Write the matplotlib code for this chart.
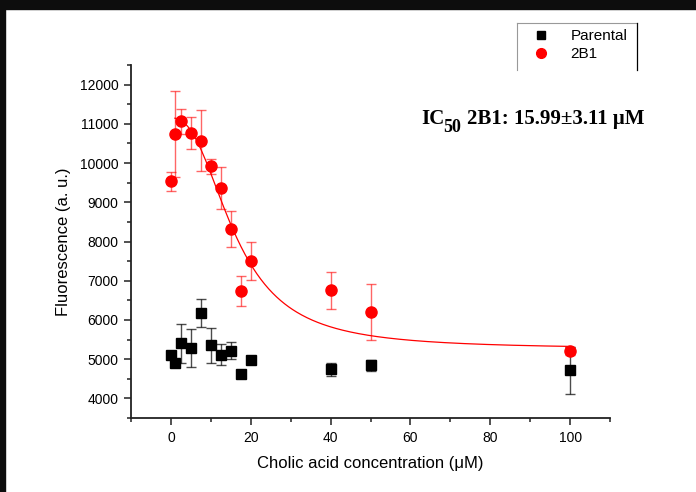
import numpy as np
import matplotlib
import matplotlib.pyplot as plt
from matplotlib.lines import Line2D
from matplotlib.patches import Rectangle

matplotlib.use("Agg")

# Parental cells
parental_x = [0, 1, 2.5, 5, 7.5, 10, 12.5, 15, 17.5, 20, 40, 50, 100]
parental_y = [5100, 4890, 5400, 5290, 6170, 5350, 5110, 5220, 4615, 4970, 4740, 4840, 4720]
parental_err = [0, 0, 490, 480, 355, 435, 270, 210, 0, 0, 160, 150, 600]

# 2B1 cells
resist_x = [0, 1, 2.5, 5, 7.5, 10, 12.5, 15, 17.5, 20, 40, 50, 100]
resist_y = [9530, 10745, 11060, 10760, 10575, 9915, 9365, 8315, 6740, 7505, 6755, 6200, 5205]
resist_err = [230, 1100, 330, 410, 790, 200, 530, 450, 380, 480, 470, 715, 100]

# dose-response fit (top, bottom, IC50, hill slope)
fit_top = 11150
fit_bottom = 5260
fit_ic50 = 15.99
fit_hill = 2.45

plt.rcParams["font.family"] = ["Liberation Sans", "DejaVu Sans"]

fig = plt.figure(figsize=(6.96, 4.92), dpi=100)
ax = fig.add_axes([131 / 696, 74 / 492, 479 / 696, 353 / 492])

# black slide edges around the chart
fig.patches.append(Rectangle((0, 1 - 9 / 492), 1, 9 / 492, transform=fig.transFigure,
                             color="#0d0d0d", zorder=0))
fig.patches.append(Rectangle((0, 0), 5 / 696, 1, transform=fig.transFigure,
                             color="#0d0d0d", zorder=0))

xs = np.linspace(1, 100, 300)
fit_y = fit_bottom + (fit_top - fit_bottom) / (1 + (xs / fit_ic50) ** fit_hill)
ax.plot(xs, fit_y, color="red", lw=0.9, zorder=2)

ax.errorbar(resist_x, resist_y, yerr=resist_err, fmt="none", ecolor="red",
            elinewidth=1, capsize=3.5, capthick=1, alpha=0.6, zorder=1)
ax.errorbar(parental_x, parental_y, yerr=parental_err, fmt="none", ecolor="black",
            elinewidth=1, capsize=3.5, capthick=1, alpha=0.7, zorder=1)
ax.plot(parental_x, parental_y, "s", color="black", ms=7, zorder=3)
ax.plot(resist_x, resist_y, "o", color="red", ms=8, zorder=3)

ax.set_xlim(-10, 110)
ax.set_ylim(3500, 12500)
ax.set_xticks([0, 20, 40, 60, 80, 100])
ax.set_xticks(np.arange(-10, 111, 10), minor=True)
ax.set_yticks(np.arange(4000, 12001, 1000))
ax.set_yticks(np.arange(3500, 12501, 500), minor=True)
for s in ["top", "right"]:
    ax.spines[s].set_visible(False)
for s in ["left", "bottom"]:
    ax.spines[s].set_linewidth(1.3)
    ax.spines[s].set_color("#222222")
ax.tick_params(which="major", length=5, width=1.1, labelsize=10, pad=4, color="#222222")
ax.tick_params(which="minor", length=3, width=1.1, color="#222222")

ax.set_xlabel("Cholic acid concentration (μM)", fontsize=12, labelpad=8)
ax.set_ylabel("Fluorescence (a. u.)", fontsize=12, labelpad=6)

# IC50 annotation (display pixels, origin bottom-left)
ic_font = dict(fontweight="bold", family="Liberation Serif", va="baseline", transform=None)
ax.text(421, 492 - 124, "IC", fontsize=15, **ic_font)
ax.text(443, 492 - 132, "50", fontsize=13, **ic_font)
ax.text(467, 492 - 124, "2B1: 15.99±3.11 μM", fontsize=15, **ic_font)

# legend with open bottom border
handles = [Line2D([], [], marker="s", color="black", ls="none", ms=6),
           Line2D([], [], marker="o", color="red", ls="none", ms=7)]
fig.legend(handles, ["Parental", "2B1"], loc="upper left",
           bbox_to_anchor=(520 / 696, 1 - 23 / 492), frameon=False, fontsize=11,
           handletextpad=0.9, labelspacing=0.25, borderaxespad=0)
fig.lines.append(Line2D([517 / 696, 517 / 696], [1 - 23 / 492, 1 - 70 / 492],
                        transform=fig.transFigure, color="#999999", lw=0.8))
fig.lines.append(Line2D([517 / 696, 637 / 696], [1 - 23 / 492, 1 - 23 / 492],
                        transform=fig.transFigure, color="#999999", lw=0.8))
fig.lines.append(Line2D([637 / 696, 637 / 696], [1 - 23 / 492, 1 - 70 / 492],
                        transform=fig.transFigure, color="black", lw=0.9))

fig.savefig("out.png", dpi=100)
